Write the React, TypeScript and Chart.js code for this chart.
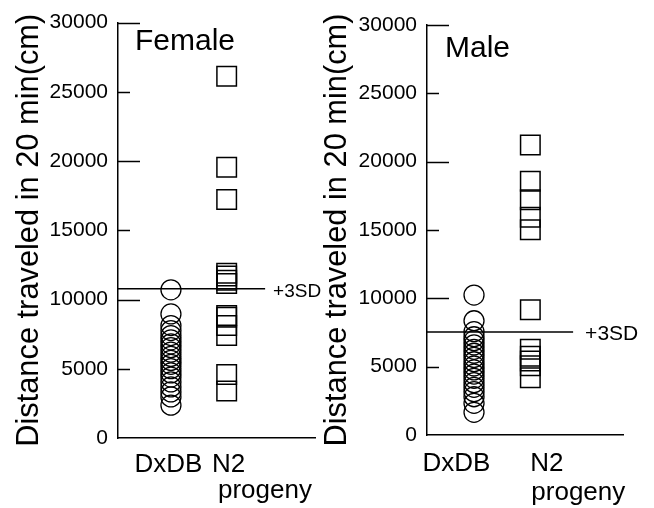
import React, { useEffect, useRef } from "react";
import { Chart, registerables } from "chart.js";

Chart.register(...registerables);

const FONT = "'Liberation Sans', Arial, Helvetica, sans-serif";

// Categories and axis
const groupLabels = ["DxDB", "N2", "progeny"];
const yTicks = [0, 5000, 10000, 15000, 20000, 25000, 30000];
const yTitle = "Distance traveled in 20 min(cm)";
const sdLabel = "+3SD";

// Female data (cm)
const femaleDxDB = [10700, 8960, 8120, 7760, 7400, 7090, 6800, 6520, 6200, 5890, 5600, 5320, 5010, 4700, 4400, 4050, 3690, 3330, 2970, 2370];
const femaleN2 = [26120, 19560, 17220, 11900, 11700, 11400, 11150, 8840, 8720, 8120, 7400, 4590, 3390];
const femaleSD = 10780;

// Male data (cm)
const maleDxDB = [10240, 8360, 7560, 7190, 6900, 6590, 6270, 5980, 5680, 5360, 5050, 4760, 4460, 4150, 3830, 3490, 3170, 2800, 2320, 1660];
const maleN2 = [21220, 18560, 17220, 15930, 15020, 9170, 6270, 5760, 5410, 5070, 4190];
const maleSD = 7540;

type PanelCfg = {
  title: string;
  dxdb: number[];
  n2: number[];
  sd: number;
  padding: { left: number; right: number; top: number; bottom: number };
  yWidth: number;
  xHeight: number;
  xMin: number;
  xMax: number;
  lineEnd: number;
  titlePad: number;
  headDx: number;
  headDy: number;
  sdFont: number;
  sdGap: number;
  sdDy: number;
  dxdbDx: number;
  n2Dx: number;
  progenyDx: number;
  labelBase: number;
  progenyBase: number;
};

const femaleCfg: PanelCfg = {
  title: "Female",
  dxdb: femaleDxDB,
  n2: femaleN2,
  sd: femaleSD,
  padding: { left: 0, right: 339, top: 20.5, bottom: 0 },
  yWidth: 118,
  xHeight: 70,
  xMin: -0.95,
  xMax: 2.585,
  lineEnd: 1.69,
  titlePad: 11,
  headDx: 17,
  headDy: 27.5,
  sdFont: 19,
  sdGap: 8,
  sdDy: 3,
  dxdbDx: -2.5,
  n2Dx: -14.7,
  progenyDx: -8.7,
  labelBase: 34,
  progenyBase: 60,
};

const maleCfg: PanelCfg = {
  title: "Male",
  dxdb: maleDxDB,
  n2: maleN2,
  sd: maleSD,
  padding: { left: 318, right: 31, top: 25, bottom: 0 },
  yWidth: 109,
  xHeight: 73,
  xMin: -0.835,
  xMax: 2.646,
  lineEnd: 1.76,
  titlePad: 1,
  headDx: 18,
  headDy: 32,
  sdFont: 21,
  sdGap: 12,
  sdDy: 2,
  dxdbDx: -17.5,
  n2Dx: 0,
  progenyDx: 1,
  labelBase: 36,
  progenyBase: 65,
};

function Panel({ cfg }: { cfg: PanelCfg }) {
  const ref = useRef<HTMLCanvasElement | null>(null);

  useEffect(() => {
    if (!ref.current) return;
    const overlay = {
      id: "overlay" + cfg.title,
      afterDraw(chart: any) {
        const ctx = chart.ctx as CanvasRenderingContext2D;
        const { left, top, bottom } = chart.chartArea;
        const xs = chart.scales.x;
        const ys = chart.scales.y;
        ctx.save();
        ctx.strokeStyle = "#000";
        ctx.lineWidth = 1.5;
        for (const v of yTicks) {
          if (v === 0) continue;
          const py = Math.round(ys.getPixelForValue(v)) + 0.5;
          const len = v % 10000 === 0 ? 22 : 12;
          ctx.beginPath();
          ctx.moveTo(left, py);
          ctx.lineTo(left + len, py);
          ctx.stroke();
        }
        ctx.fillStyle = "#000";
        ctx.textAlign = "left";
        ctx.textBaseline = "alphabetic";
        ctx.font = `30px ${FONT}`;
        ctx.fillText(cfg.title, left + cfg.headDx, top + cfg.headDy);

        ctx.font = `${cfg.sdFont}px ${FONT}`;
        ctx.textBaseline = "middle";
        ctx.fillText(sdLabel, xs.getPixelForValue(cfg.lineEnd) + cfg.sdGap, ys.getPixelForValue(cfg.sd) + cfg.sdDy);

        ctx.font = `26px ${FONT}`;
        ctx.textBaseline = "alphabetic";
        ctx.textAlign = "center";
        ctx.fillText(groupLabels[0], xs.getPixelForValue(0) + cfg.dxdbDx, bottom + cfg.labelBase);
        ctx.textAlign = "left";
        ctx.fillText(groupLabels[1], xs.getPixelForValue(1) + cfg.n2Dx, bottom + cfg.labelBase);
        ctx.fillText(groupLabels[2], xs.getPixelForValue(1) + cfg.progenyDx, bottom + cfg.progenyBase);
        ctx.restore();
      },
    };

    const chart = new Chart(ref.current, {
      type: "scatter",
      data: {
        datasets: [
          {
            label: groupLabels[0],
            data: cfg.dxdb.map((v) => ({ x: 0, y: v })),
            pointStyle: "circle",
            pointRadius: 10,
            borderColor: "#000",
            backgroundColor: "rgba(0,0,0,0)",
            borderWidth: 1.3,
          },
          {
            label: groupLabels[1],
            data: cfg.n2.map((v) => ({ x: 1, y: v })),
            pointStyle: "rect",
            pointRadius: 13.8,
            borderColor: "#000",
            backgroundColor: "rgba(0,0,0,0)",
            borderWidth: 1.5,
          },
          {
            label: sdLabel,
            data: [
              { x: cfg.xMin, y: cfg.sd },
              { x: cfg.lineEnd, y: cfg.sd },
            ],
            showLine: true,
            pointRadius: 0,
            borderColor: "#000",
            borderWidth: 1.5,
          } as any,
        ],
      },
      options: {
        responsive: false,
        animation: false,
        devicePixelRatio: 1,
        layout: { padding: cfg.padding },
        plugins: { legend: { display: false }, tooltip: { enabled: false } },
        scales: {
          x: {
            type: "linear",
            min: cfg.xMin,
            max: cfg.xMax,
            grid: { display: false, drawTicks: false },
            border: { display: true, color: "#000", width: 1.5 },
            ticks: { display: false },
            afterFit: (s: any) => {
              s.height = cfg.xHeight;
            },
          },
          y: {
            type: "linear",
            min: 0,
            max: 30000,
            grid: { display: false, drawTicks: false },
            border: { display: true, color: "#000", width: 1.5 },
            afterBuildTicks: (s: any) => {
              s.ticks = yTicks.map((v) => ({ value: v }));
            },
            ticks: {
              color: "#000",
              font: { family: FONT, size: 21 },
              padding: 10,
              callback: (v: any) => String(v),
            },
            title: {
              display: true,
              text: yTitle,
              color: "#000",
              font: { family: FONT, size: 30.8, lineHeight: 1.2 },
              padding: { top: cfg.titlePad, bottom: 0 },
            },
            afterFit: (s: any) => {
              s.width = cfg.yWidth;
            },
          },
        },
      },
      plugins: [overlay],
    });
    return () => chart.destroy();
  }, [cfg]);

  return (
    <canvas
      ref={ref}
      width={654}
      height={508}
      style={{ position: "absolute", left: 0, top: 0, width: 654, height: 508 }}
    />
  );
}

export default function App() {
  return (
    <div style={{ position: "absolute", left: 0, top: 0, width: 654, height: 508, background: "#fff" }}>
      <Panel cfg={femaleCfg} />
      <Panel cfg={maleCfg} />
    </div>
  );
}
